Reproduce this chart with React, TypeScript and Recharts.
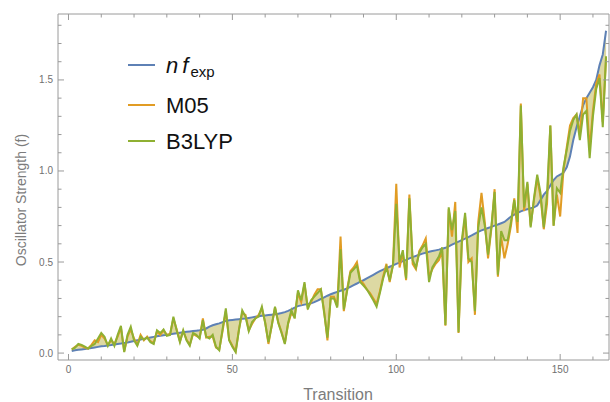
import React from "react";
import { ComposedChart, Line, Area, XAxis, YAxis } from "recharts";

const FONT = "'Liberation Sans', Arial, Helvetica, sans-serif";
const FRAME = "#9a9a9a";
const TICK_TEXT = "#707070";
const TITLE = "#7c7c7c";
const BLUE = "#5e81b5";
const ORANGE = "#e19c24";
const GREEN = "#8fb032";

// n * f_exp, sorted
const nfExp = [
  0.012, 0.015, 0.018, 0.02, 0.022, 0.025, 0.028, 0.031, 0.034, 0.037,
  0.039, 0.042, 0.044, 0.047, 0.05, 0.052, 0.055, 0.058, 0.062, 0.066,
  0.07, 0.074, 0.078, 0.082, 0.086, 0.089, 0.092, 0.095, 0.098, 0.1,
  0.103, 0.106, 0.109, 0.112, 0.115, 0.117, 0.119, 0.121, 0.123, 0.125,
  0.128, 0.135, 0.145, 0.153, 0.158, 0.163, 0.17, 0.176, 0.18, 0.182,
  0.184, 0.186, 0.188, 0.19, 0.193, 0.196, 0.199, 0.202, 0.205, 0.207,
  0.209, 0.211, 0.213, 0.216, 0.22, 0.225, 0.232, 0.24, 0.25, 0.258,
  0.262, 0.266, 0.27, 0.274, 0.28, 0.288, 0.297, 0.306, 0.315, 0.323,
  0.33, 0.336, 0.342, 0.348, 0.355, 0.364, 0.373, 0.382, 0.392, 0.4,
  0.41, 0.42, 0.43, 0.44, 0.45, 0.458, 0.466, 0.474, 0.482, 0.49,
  0.497, 0.505, 0.512, 0.52, 0.527, 0.534, 0.54, 0.546, 0.551, 0.556,
  0.56, 0.564, 0.568, 0.573, 0.578, 0.586, 0.595, 0.604, 0.612, 0.62,
  0.628, 0.637, 0.646, 0.656, 0.666, 0.674, 0.68, 0.687, 0.693, 0.7,
  0.706, 0.713, 0.72, 0.735, 0.75, 0.76, 0.77, 0.778, 0.785, 0.79,
  0.795, 0.8, 0.81, 0.84, 0.87, 0.89, 0.92, 0.95, 0.97, 0.98,
  0.99, 1.02, 1.08, 1.17, 1.24, 1.3, 1.36, 1.4, 1.43, 1.46,
  1.5, 1.58, 1.64, 1.77,
];

const m05 = [
  0.02, 0.035, 0.045, 0.04, 0.03, 0.025, 0.045, 0.07, 0.06, 0.1,
  0.08, 0.045, 0.07, 0.05, 0.09, 0.14, 0.01, 0.09, 0.13, 0.08,
  0.045, 0.1, 0.07, 0.09, 0.065, 0.055, 0.12, 0.1, 0.125, 0.1,
  0.105, 0.19, 0.13, 0.065, 0.12, 0.075, 0.045, 0.105, 0.095, 0.085,
  0.19, 0.085, 0.09, 0.09, 0.03, 0.02, 0.12, 0.23, 0.075, 0.04,
  0.01, 0.13, 0.22, 0.21, 0.125, 0.16, 0.19, 0.21, 0.245, 0.17,
  0.05, 0.15, 0.25, 0.17, 0.115, 0.055, 0.16, 0.22, 0.2, 0.33,
  0.28, 0.38, 0.25, 0.28, 0.32, 0.35, 0.35, 0.23, 0.07, 0.31,
  0.31, 0.26, 0.64, 0.23, 0.35, 0.45, 0.47, 0.5, 0.4, 0.38,
  0.35, 0.33, 0.3, 0.27, 0.34, 0.42, 0.49, 0.39, 0.49, 0.93,
  0.47, 0.55, 0.4, 0.87, 0.49, 0.46, 0.56, 0.59, 0.63, 0.42,
  0.46, 0.49, 0.51, 0.56, 0.15, 0.79, 0.64, 0.83, 0.11, 0.6,
  0.75, 0.5, 0.52, 0.21, 0.72, 0.88, 0.72, 0.52, 0.68, 0.9,
  0.42, 0.64, 0.52, 0.6, 0.7, 0.85, 0.66, 1.37, 0.78, 0.93,
  0.7, 0.84, 0.96, 0.86, 0.68, 0.82, 1.25, 0.7, 0.87, 0.75,
  1.0, 1.13, 1.25, 1.29, 1.31, 1.2, 1.4, 1.4, 1.12, 1.33,
  1.48, 1.53, 1.27, 1.62,
];

const b3lyp = [
  0.02, 0.03, 0.05, 0.045, 0.035, 0.025, 0.04, 0.05, 0.08, 0.11,
  0.09, 0.04, 0.08, 0.04, 0.1, 0.15, 0.005, 0.1, 0.145, 0.07,
  0.04, 0.09, 0.075, 0.085, 0.06, 0.05, 0.125, 0.11, 0.13, 0.095,
  0.1, 0.2, 0.125, 0.06, 0.125, 0.07, 0.04, 0.11, 0.1, 0.08,
  0.18, 0.09, 0.08, 0.1, 0.035, 0.015, 0.13, 0.245, 0.07, 0.035,
  0.005, 0.125, 0.235, 0.2, 0.12, 0.17, 0.19, 0.2, 0.255, 0.165,
  0.06, 0.15, 0.255, 0.165, 0.11, 0.05, 0.165, 0.235, 0.19, 0.345,
  0.29, 0.39, 0.24, 0.29, 0.31, 0.33, 0.35, 0.22, 0.085, 0.3,
  0.3, 0.25, 0.57, 0.24, 0.34, 0.44, 0.46, 0.48, 0.39, 0.37,
  0.35, 0.32, 0.29, 0.255, 0.33, 0.41, 0.47, 0.4, 0.48, 0.82,
  0.5, 0.565, 0.41, 0.85, 0.51, 0.47, 0.55, 0.58, 0.6, 0.39,
  0.47, 0.5, 0.53, 0.58, 0.155, 0.8, 0.675, 0.78, 0.115, 0.62,
  0.77, 0.52, 0.5, 0.23, 0.69, 0.8, 0.7, 0.54, 0.69, 0.885,
  0.43, 0.67, 0.62, 0.62, 0.72, 0.84, 0.72, 1.36, 0.8, 0.94,
  0.69, 0.85, 0.98, 0.88, 0.69, 0.87, 1.25, 0.7, 0.905, 0.88,
  1.02, 1.115, 1.22, 1.28, 1.31, 1.17, 1.31, 1.33, 1.07, 1.3,
  1.45, 1.51, 1.24, 1.63,
];

const xTicks = [0, 10, 20, 30, 40, 50, 60, 70, 80, 90, 100, 110, 120, 130, 140, 150, 160];
const xMajor = [0, 50, 100, 150];
const yTicks = [0, 0.1, 0.2, 0.3, 0.4, 0.5, 0.6, 0.7, 0.8, 0.9, 1.0, 1.1, 1.2, 1.3, 1.4, 1.5, 1.6, 1.7, 1.8];
const yMajor = [0, 0.5, 1.0, 1.5];

const data = nfExp.map((v, i) => ({
  transition: i + 1,
  exp: v,
  m05: m05[i],
  b3lyp: b3lyp[i],
  fillM05: [v, m05[i]],
  fillB3: [v, b3lyp[i]],
}));

const isMajorY = (v: number) => yMajor.some((m) => Math.abs(m - v) < 1e-6);

const BottomTick = ({ x, y, payload }: any) => {
  const major = xMajor.includes(payload.value);
  return (
    <g>
      <line x1={x} x2={x} y1={y} y2={y - (major ? 6 : 3.5)} stroke={FRAME} />
      {major && (
        <text x={x} y={y + 13} textAnchor="middle" fontSize={10} fill={TICK_TEXT} fontFamily={FONT}>
          {payload.value}
        </text>
      )}
    </g>
  );
};

const TopTick = ({ x, y, payload }: any) => {
  const major = xMajor.includes(payload.value);
  return <line x1={x} x2={x} y1={y} y2={y + (major ? 6 : 3.5)} stroke={FRAME} />;
};

const LeftTick = ({ x, y, payload }: any) => {
  const major = isMajorY(payload.value);
  return (
    <g>
      <line x1={x} x2={x + (major ? 6 : 3.5)} y1={y} y2={y} stroke={FRAME} />
      {major && (
        <text x={x - 5} y={y + 3.5} textAnchor="end" fontSize={10} fill={TICK_TEXT} fontFamily={FONT}>
          {payload.value.toFixed(1)}
        </text>
      )}
    </g>
  );
};

const RightTick = ({ x, y, payload }: any) => {
  const major = isMajorY(payload.value);
  return <line x1={x} x2={x - (major ? 6 : 3.5)} y1={y} y2={y} stroke={FRAME} />;
};

export default function App() {
  return (
    <div style={{ position: "fixed", left: 0, top: 0, width: 610, height: 402, background: "#fff" }}>
      <ComposedChart width={610} height={402} data={data} margin={{ top: 13, right: 0, bottom: 0, left: 0 }}>
        <XAxis
          dataKey="transition"
          type="number"
          domain={[-3.2, 164.9]}
          allowDataOverflow
          ticks={xTicks}
          interval={0}
          height={42}
          tickSize={0}
          tickMargin={0}
          tickLine={false}
          axisLine={{ stroke: FRAME }}
          tick={<BottomTick />}
        />
        <XAxis
          xAxisId="top"
          orientation="top"
          dataKey="transition"
          type="number"
          domain={[-3.2, 164.9]}
          allowDataOverflow
          ticks={xTicks}
          interval={0}
          height={1}
          tickSize={0}
          tickMargin={0}
          tickLine={false}
          axisLine={{ stroke: FRAME }}
          tick={<TopTick />}
        />
        <YAxis
          type="number"
          domain={[-0.038, 1.862]}
          allowDataOverflow
          ticks={yTicks}
          interval={0}
          width={58}
          tickSize={0}
          tickMargin={0}
          tickLine={false}
          axisLine={{ stroke: FRAME }}
          tick={<LeftTick />}
        />
        <YAxis
          yAxisId="right"
          orientation="right"
          type="number"
          domain={[-0.038, 1.862]}
          allowDataOverflow
          ticks={yTicks}
          interval={0}
          width={1}
          tickSize={0}
          tickMargin={0}
          tickLine={false}
          axisLine={{ stroke: FRAME }}
          tick={<RightTick />}
        />
        <Area
          type="linear"
          dataKey="fillM05"
          stroke="none"
          fill={ORANGE}
          fillOpacity={0.24}
          isAnimationActive={false}
        />
        <Area
          type="linear"
          dataKey="fillB3"
          stroke="none"
          fill={GREEN}
          fillOpacity={0.26}
          isAnimationActive={false}
        />
        <Line type="linear" dataKey="exp" stroke={BLUE} strokeWidth={2} dot={false} isAnimationActive={false} />
        <Line type="linear" dataKey="m05" stroke={ORANGE} strokeWidth={2} dot={false} isAnimationActive={false} />
        <Line type="linear" dataKey="b3lyp" stroke={GREEN} strokeWidth={2} dot={false} isAnimationActive={false} />
      </ComposedChart>
      <svg
        width={610}
        height={402}
        style={{ position: "absolute", left: 0, top: 0, pointerEvents: "none" }}
        fontFamily={FONT}
      >
        <text x={26} y={200} transform="rotate(-90 26 200)" textAnchor="middle" fontSize={14} fill={TITLE}>
          Oscillator Strength (f)
        </text>
        <text x={338} y={400} textAnchor="middle" fontSize={16} fill={TITLE}>
          Transition
        </text>
        <line x1={128} x2={155} y1={65} y2={65} stroke={BLUE} strokeWidth={2} />
        <text x={166} y={73} fontSize={22} fill="#111">
          <tspan fontStyle="italic">n</tspan>
          <tspan fontStyle="italic" dx={4}>f</tspan>
          <tspan fontSize={15} dx={2} dy={4}>exp</tspan>
        </text>
        <line x1={128} x2={155} y1={105} y2={105} stroke={ORANGE} strokeWidth={2} />
        <text x={166} y={112.5} fontSize={22} fill="#111">M05</text>
        <line x1={128} x2={155} y1={141} y2={141} stroke={GREEN} strokeWidth={2} />
        <text x={166} y={148.5} fontSize={22} fill="#111">B3LYP</text>
      </svg>
    </div>
  );
}
